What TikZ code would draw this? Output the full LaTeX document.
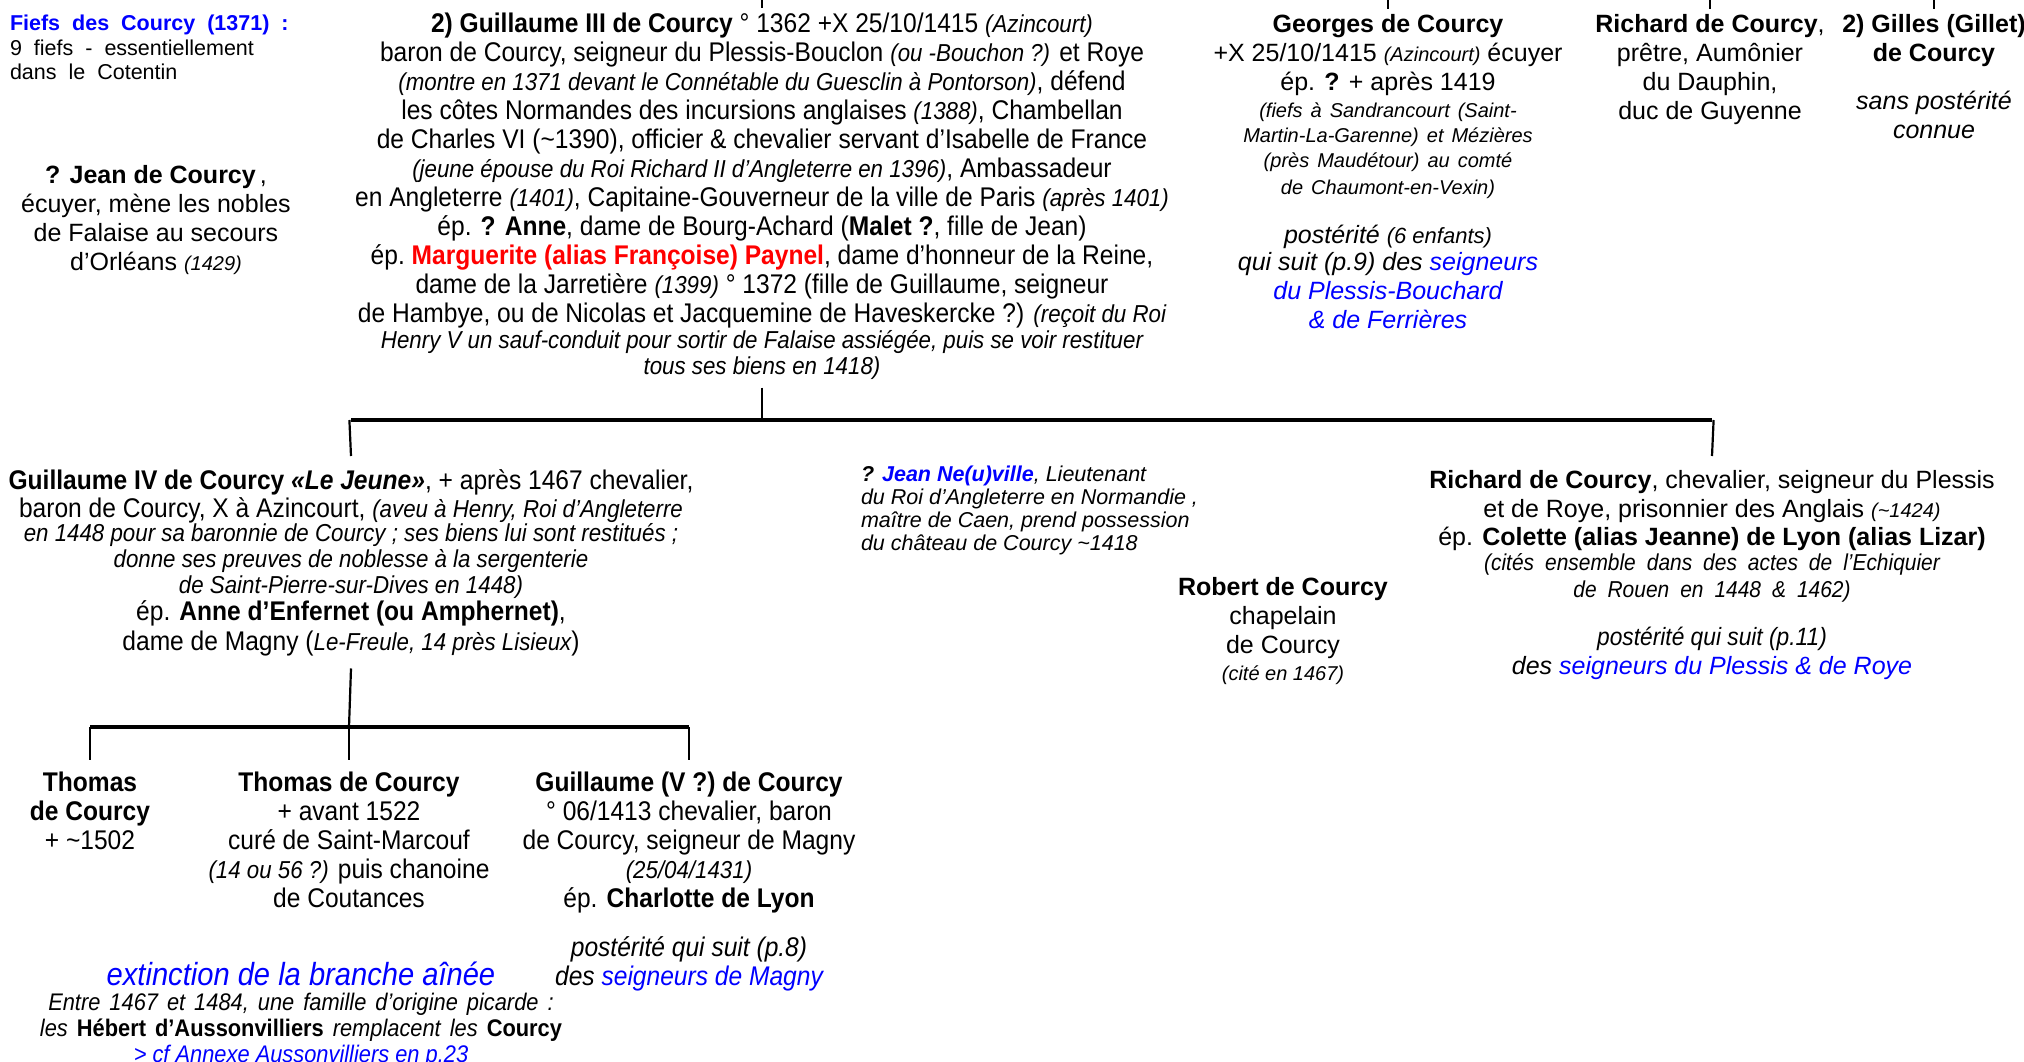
\documentclass[tikz,border=0pt]{standalone}
\usepackage{fontspec}
\setmainfont{Liberation Sans}
\newfontfamily\nar{Liberation Sans}[FakeStretch=0.91]
\usetikzlibrary{calc}
\definecolor{lnk}{RGB}{0,0,255}
\definecolor{rd}{RGB}{255,0,0}
\newcommand\sit[1]{{\fontsize{20}{24}\selectfont\itshape #1}}
\newcommand\nsit[1]{{\fontsize{24.5}{26}\selectfont\itshape #1}}
\newcommand\wsp[1]{\spaceskip=#1\relax}
\begin{document}
\begin{tikzpicture}[x=1pt,y=-1pt,
  every node/.style={inner sep=0pt, outer sep=0pt},
  person/.style={align=center, anchor=north, font=\fontsize{25}{29}\selectfont},
  narrowp/.style={align=center, anchor=north, font=\nar\fontsize{27}{29}\selectfont},
  note/.style={align=left, anchor=north west},
  link/.style={line width=2.2pt},
  bar/.style={line width=3.2pt},
]
\useasboundingbox (0,0) rectangle (2024,1062);
\fill[white] (0,0) rectangle (2024,1062);

% ---------- top row ----------
\node[note, font=\fontsize{21.5}{24.5}\selectfont] (fiefs) at (10,15)
 {\wsp{12pt plus 2pt}\textcolor{lnk}{\bfseries\wsp{12pt plus 2pt}Fiefs des Courcy (1371) :}\\\wsp{12pt plus 2pt}9 fiefs - essentiellement\\\wsp{12pt plus 2pt}dans le Cotentin};

\node[person] (jean) at (156,165)
 {\textbf{? Jean de Courcy}\,,\\écuyer, mène les nobles\\de Falaise au secours\\d’Orléans \sit{(1429)}};

\node[narrowp] (g3) at (762,13)
 {\textbf{2) Guillaume III de Courcy} ° 1362 +X 25/10/1415 \nsit{(Azincourt)}\\
  baron de Courcy, seigneur du Plessis-Bouclon \nsit{(ou -Bouchon ?)} et Roye\\
  \nsit{(montre en 1371 devant le Connétable du Guesclin à Pontorson)}, défend\\
  les côtes Normandes des incursions anglaises \nsit{(1388)}, Chambellan\\
  de Charles VI (\textasciitilde1390), officier \& chevalier servant d’Isabelle de France\\
  \nsit{(jeune épouse du Roi Richard II d’Angleterre en 1396)}, Ambassadeur\\
  en Angleterre \nsit{(1401)}, Capitaine-Gouverneur de la ville de Paris \nsit{(après 1401)}\\
  ép. \textbf{? Anne}, dame de Bourg-Achard (\textbf{Malet ?}, fille de Jean)\\
  ép.\ \textcolor{rd}{\textbf{Marguerite (alias Françoise) Paynel}}, dame d’honneur de la Reine,\\
  dame de la Jarretière \nsit{(1399)} ° 1372 (fille de Guillaume, seigneur\\
  de Hambye, ou de Nicolas et Jacquemine de Haveskercke ?) \nsit{(reçoit du Roi}\\[-3pt]
  \nsit{Henry V un sauf-conduit pour sortir de Falaise assiégée, puis se voir restituer}\\[-3pt]
  \nsit{tous ses biens en 1418)}};

\node[person] (geo) at (1388,14)
 {\textbf{Georges de Courcy}\\
  +X 25/10/1415 \sit{(Azincourt)} écuyer\\
  ép. \textbf{?} + après 1419\\[-2pt]
  {\fontsize{20}{24}\selectfont\itshape\wsp{8pt plus 2pt}(fiefs à Sandrancourt (Saint-}\\[-4pt]
  {\fontsize{20}{24}\selectfont\itshape\wsp{8pt plus 2pt}Martin-La-Garenne) et Mézières}\\[-4pt]
  {\fontsize{20}{24}\selectfont\itshape\wsp{8pt plus 2pt}(près Maudétour) au comté}\\[-2pt]
  {\fontsize{20}{24}\selectfont\itshape\wsp{8pt plus 2pt}de Chaumont-en-Vexin)}\\[20pt]
  {\itshape postérité} {\fontsize{22}{24}\selectfont\itshape (6 enfants)}\\[-2pt]
  {\itshape qui suit (p.9) des \textcolor{lnk}{seigneurs}}\\
  \textcolor{lnk}{\itshape du Plessis-Bouchard}\\
  \textcolor{lnk}{\itshape \& de Ferrières}};

\node[person] (ric1) at (1710,14)
 {\textbf{Richard de Courcy},\\prêtre, Aumônier\\du Dauphin,\\duc de Guyenne};

\node[person] (gil) at (1934,14)
 {\textbf{2) Gilles (Gillet)}\\\textbf{de Courcy}\\[19pt]
  {\itshape sans postérité}\\{\itshape connue}};

% ---------- middle row ----------
\node[narrowp] (g4) at (351,470)
 {\textbf{Guillaume IV de Courcy} \textbf{\itshape «Le Jeune»}, + après 1467 chevalier,\\[-1pt]
  baron de Courcy, X à Azincourt, \nsit{(aveu à Henry, Roi d’Angleterre}\\[-5pt]
  \nsit{en 1448 pour sa baronnie de Courcy ; ses biens lui sont restitués ;}\\[-3pt]
  \nsit{donne ses preuves de noblesse à la sergenterie}\\[-3pt]
  \nsit{de Saint-Pierre-sur-Dives en 1448)}\\[-2pt]
  ép. \textbf{Anne d’Enfernet (ou Amphernet)},\\[1pt]
  dame de Magny (\nsit{Le-Freule, 14 près Lisieux})};

\node[note, font=\fontsize{21.5}{23}\selectfont\itshape] (nev) at (861,466)
 {\textbf{?} \textcolor{lnk}{\bfseries Jean Ne(u)ville}, Lieutenant\\
  du Roi d’Angleterre en Normandie ,\\
  maître de Caen, prend possession\\
  du château de Courcy \textasciitilde1418};

\node[person] (rob) at (1283,577)
 {\textbf{Robert de Courcy}\\chapelain\\de Courcy\\[-2pt]\sit{(cité en 1467)}};

\node[person] (ric2) at (1712,470)
 {\textbf{Richard de Courcy}, chevalier, seigneur du Plessis\\[0pt]
  et de Roye, prisonnier des Anglais \sit{(\textasciitilde1424)}\\[-1pt]
  ép. \textbf{Colette (alias Jeanne) de Lyon (alias Lizar)}\\[-4pt]
  {\nar\fontsize{23}{24}\selectfont\itshape\wsp{11pt plus 2pt}(cités ensemble dans des actes de l’Echiquier}\\[-2pt]
  {\nar\fontsize{23}{24}\selectfont\itshape\wsp{11pt plus 2pt}de Rouen en 1448 \& 1462)}\\[19pt]
  {\nar\itshape postérité qui suit (p.11)}\\
  {\itshape des \textcolor{lnk}{seigneurs du Plessis \& de Roye}}};

% ---------- bottom row ----------
\node[narrowp] (th1) at (90,772)
 {\textbf{Thomas}\\\textbf{de Courcy}\\+ \textasciitilde1502};

\node[narrowp] (th2) at (349,772)
 {\textbf{Thomas de Courcy}\\+ avant 1522\\curé de Saint-Marcouf\\\nsit{(14 ou 56 ?)} puis chanoine\\de Coutances};

\node[narrowp] (g5) at (689,772)
 {\textbf{Guillaume (V ?) de Courcy}\\° 06/1413 chevalier, baron\\de Courcy, seigneur de Magny\\\nsit{(25/04/1431)}\\ép. \textbf{Charlotte de Lyon}\\[20pt]
  {\itshape postérité qui suit (p.8)}\\{\itshape des \textcolor{lnk}{seigneurs de Magny}}};

\node[anchor=north, font=\nar\fontsize{32}{34}\selectfont\itshape, text=lnk] (ext) at (301,962)
 {extinction de la branche aînée};

\node[align=center, anchor=north, font=\nar\fontsize{24}{26}\selectfont\itshape] (entre) at (301,993)
 {\wsp{9pt plus 2pt}Entre 1467 et 1484, une famille d’origine picarde :\\
  \wsp{9pt plus 2pt}les {\upshape\bfseries Hébert d’Aussonvilliers} remplacent les {\upshape\bfseries Courcy}\\
  \textcolor{lnk}{> cf Annexe Aussonvilliers en p.23}};

% ---------- connectors ----------
\coordinate (top) at (0,0);
\foreach \n in {g3,geo,ric1,gil} \draw[link] (\n.north |- top) -- ($(\n.north)+(0,-5)$);

\coordinate (j1) at (762,420);
\draw[link] ($(g3.south)+(0,8)$) -- (j1);
\draw[bar] (g4.north |- j1) -- (ric2.north |- j1);
\draw[link] ([xshift=-1.6pt]g4.north |- j1) -- ($(g4.north)+(0,-14)$);
\draw[link] ([xshift=1.6pt]ric2.north |- j1) -- ($(ric2.north)+(0,-14)$);

\coordinate (j2) at (346,727);
\draw[link] ($(g4.south)+(0,12)$) -- (th2.north |- j2);
\draw[bar] (th1.north |- j2) -- (g5.north |- j2);
\foreach \n in {th1,th2,g5} \draw[link] (\n.north |- j2) -- ($(\n.north)+(0,-12)$);
\end{tikzpicture}
\end{document}
